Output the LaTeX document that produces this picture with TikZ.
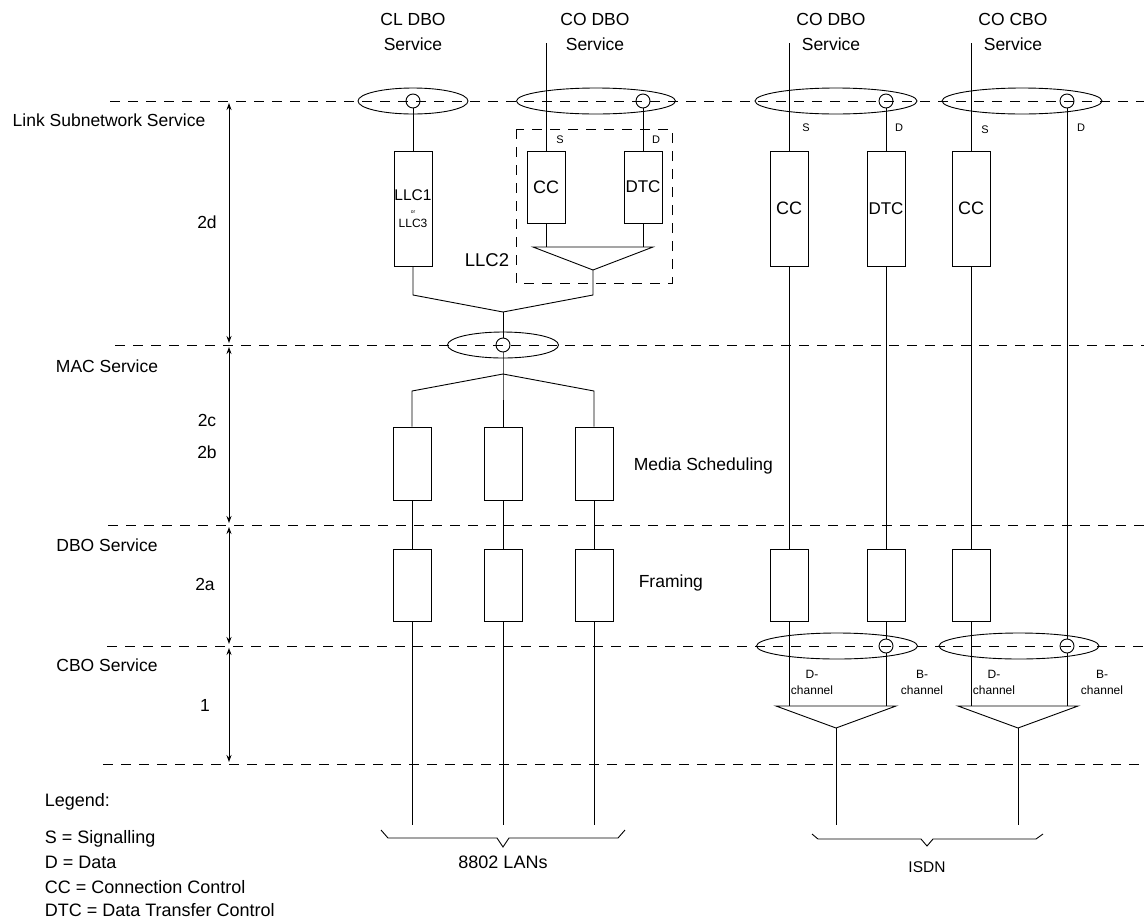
\documentclass[tikz,border=0pt]{standalone}
\usepackage{fontspec}
\setmainfont{Liberation Sans}
\usetikzlibrary{shapes.geometric,arrows.meta}

\tikzset{
  layer/.style={dash pattern=on 10pt off 8pt},
  box/.style={draw, rectangle, minimum width=38pt, inner sep=0pt},
  sap/.style={draw, circle, minimum size=14pt, inner sep=0pt},
  oval/.style={draw, ellipse, minimum height=26pt, inner sep=0pt},
  lbl/.style={font=\fontsize{17.5}{25}\selectfont, align=center},
  legline/.style={font=\fontsize{18}{20}\selectfont, anchor=west},
  tiny/.style={font=\fontsize{11}{12}\selectfont},
  chan/.style={font=\fontsize{12}{16}\selectfont, align=center},
}

\begin{document}
\begin{tikzpicture}[x=1pt, y=-1pt, line width=0.9pt, >={Stealth[length=7pt,width=5pt]}]
  \useasboundingbox (0,0) rectangle (1144,919);

  % layer boundaries
  \foreach \y/\x in {101/110, 345/115, 525/108, 646/107, 764/103}
    \draw[layer] (\x,\y) -- (1144,\y);

  \coordinate (h0) at (229,101);
  \coordinate (h1) at (229,345);
  \coordinate (h2) at (229,525);
  \coordinate (h3) at (229,646);
  \coordinate (h4) at (229,764);
  \draw[<->, shorten <=2pt, shorten >=2pt] (h0) -- (h1);
  \draw[<->, shorten <=2pt, shorten >=2pt] (h1) -- (h2);
  \draw[<->, shorten <=2pt, shorten >=2pt] (h2) -- (h3);
  \draw[<->, shorten <=2pt, shorten >=2pt] (h3) -- (h4);

  \node[lbl] (lss) at (109,120) {Link Subnetwork Service};
  \node[lbl] (macs) at (107,366) {MAC Service};
  \node[lbl] (dbos) at (107,545) {DBO Service};
  \node[lbl] (cbos) at (107,665) {CBO Service};
  \node[lbl] (n2d) at (207,222) {2d};
  \node[lbl] (n2c) at (207,420) {2c};
  \node[lbl] (n2b) at (207,452) {2b};
  \node[lbl] (n2a) at (205,584) {2a};
  \node[lbl] (n1) at (205,705) {1};

  % service headings
  \node[lbl] (cl) at (413,32) {CL DBO\\Service};
  \node[lbl] (co1) at (595,32) {CO DBO\\Service};
  \node[lbl] (co2) at (831,32) {CO DBO\\Service};
  \node[lbl] (co3) at (1013,32) {CO CBO\\Service};

  % LLC1 / LLC3
  \node[oval, minimum width=110pt] (o1) at (413,101) {};
  \node[sap] (p1) at (413,101) {};
  \node[box, minimum height=115pt, align=center] (llc1) at (413,208.5)
    {\fontsize{15.5}{17}\selectfont LLC1\\[1pt]{\fontsize{5}{5}\selectfont or}\\[2pt]{\fontsize{12}{14}\selectfont LLC3}};
  \draw (p1) -- (llc1);

  % LLC2
  \coordinate (s2) at (546,43);
  \node[oval, minimum width=159pt] (o2) at (596,101) {};
  \node[sap] (p2) at (643,101) {};
  \node[box, minimum height=72pt, font=\fontsize{18}{20}\selectfont] (cc1) at (546,187) {CC};
  \node[box, minimum height=72pt, font=\fontsize{17}{20}\selectfont] (dtc1) at (643,187) {DTC};
  \draw (s2) -- (cc1);
  \draw (p2) -- (dtc1);
  \node[tiny] (sl2) at (560,140) {S};
  \node[tiny] (dl2) at (656,140) {D};
  \coordinate (t2l) at (533,247);
  \coordinate (t2r) at (653,247);
  \coordinate (t2a) at (593,270);
  \draw (t2l) -- (t2r) -- (t2a) -- cycle;
  \draw (cc1) -- (cc1 |- t2l);
  \draw (dtc1) -- (dtc1 |- t2l);
  \draw[layer] (516,129) rectangle (672,283);
  \node[lbl, font=\fontsize{18.5}{20}\selectfont] (llc2) at (487,260) {LLC2};

  \coordinate (k1) at (413,295);
  \coordinate (k2) at (593,295);
  \coordinate (j1) at (503,312);
  \draw (llc1) -- (k1) -- (j1) -- (k2) -- (t2a);

  % MAC
  \node[oval, minimum width=111pt] (o3) at (503,345) {};
  \node[sap] (p3) at (503,345) {};
  \draw (j1) -- (p3);
  \coordinate (b3) at (503,374);
  \coordinate (b3l) at (412,391);
  \coordinate (b3r) at (594,391);
  \node[box, minimum height=73pt] (m1) at (412,463.5) {};
  \node[box, minimum height=73pt] (m2) at (503,463.5) {};
  \node[box, minimum height=73pt] (m3) at (594,463.5) {};
  \draw (p3) -- (b3) -- (m2);
  \draw (b3) -- (b3l) -- (m1);
  \draw (b3) -- (b3r) -- (m3);
  \node[lbl, anchor=west] (msch) at (630,466) {Media Scheduling};

  \node[box, minimum height=72pt] (f1) at (412,585) {};
  \node[box, minimum height=72pt] (f2) at (503,585) {};
  \node[box, minimum height=72pt] (f3) at (594,585) {};
  \node[lbl, anchor=west] (frm) at (635,583) {Framing};
  \coordinate (e1) at (412,825);
  \coordinate (e2) at (503,825);
  \coordinate (e3) at (594,825);
  \draw (m1) -- (f1) -- (e1);
  \draw (m2) -- (f2) -- (e2);
  \draw (m3) -- (f3) -- (e3);
  \draw (381,830) -- (388,838) -- (497,838) -- (503,847) -- (509,838) -- (618,838) -- (625,830);
  \node[lbl, font=\fontsize{18}{20}\selectfont] (lans) at (503,862) {8802 LANs};

  % ISDN, CO DBO
  \coordinate (s3) at (789,43);
  \node[oval, minimum width=162pt] (o4) at (836,101) {};
  \node[sap] (p4) at (886,101) {};
  \node[box, minimum height=115pt, font=\fontsize{18}{20}\selectfont] (cc2) at (789,208.5) {CC};
  \node[box, minimum height=115pt, font=\fontsize{17}{20}\selectfont] (dtc2) at (886,208.5) {DTC};
  \node[tiny] (sl3) at (806,128) {S};
  \node[tiny] (dl3) at (899,128) {D};
  \node[box, minimum height=72pt] (f4) at (789,585) {};
  \node[box, minimum height=72pt] (f5) at (886,585) {};
  \node[oval, minimum width=161pt] (o6) at (837,646) {};
  \node[sap] (p6) at (886,646) {};
  \coordinate (t3l) at (776,706);
  \coordinate (t3r) at (896,706);
  \coordinate (t3a) at (836,728);
  \coordinate (e4) at (836,825);
  \draw (t3l) -- (t3r) -- (t3a) -- cycle;
  \draw (s3) -- (cc2) -- (f4) -- (f4 |- t3l);
  \draw (p4) -- (dtc2) -- (f5) -- (p6) -- (p6 |- t3l);
  \draw (t3a) -- (e4);
  \node[chan] (dch1) at (812,682) {D-\\channel};
  \node[chan] (bch1) at (922,682) {B-\\channel};

  % ISDN, CO CBO
  \coordinate (s4) at (971,43);
  \node[oval, minimum width=160pt] (o5) at (1022,101) {};
  \node[sap] (p5) at (1067,101) {};
  \node[box, minimum height=115pt, font=\fontsize{18}{20}\selectfont] (cc3) at (971,208.5) {CC};
  \node[tiny] (sl4) at (985,130) {S};
  \node[tiny] (dl4) at (1081,128) {D};
  \node[box, minimum height=72pt] (f6) at (971,585) {};
  \node[oval, minimum width=160pt] (o7) at (1019,646) {};
  \node[sap] (p7) at (1067,646) {};
  \coordinate (t4l) at (958,706);
  \coordinate (t4r) at (1078,706);
  \coordinate (t4a) at (1018,728);
  \coordinate (e5) at (1018,825);
  \draw (t4l) -- (t4r) -- (t4a) -- cycle;
  \draw (s4) -- (cc3) -- (f6) -- (f6 |- t4l);
  \draw (p5) -- (p7) -- (p7 |- t4l);
  \draw (t4a) -- (e5);
  \node[chan] (dch2) at (994,682) {D-\\channel};
  \node[chan] (bch2) at (1102,682) {B-\\channel};

  \draw (812,834) -- (818,839) -- (921,839) -- (927,846) -- (933,839) -- (1036,839) -- (1043,834);
  \node[lbl, font=\fontsize{15.5}{18}\selectfont] (isdn) at (927,867) {ISDN};

  % legend
  \node[legline] (leg) at (41,802) {Legend:};
  \node[legline] (lg1) at (41,839) {S = Signalling};
  \node[legline] (lg2) at (41,862) {D = Data};
  \node[legline] (lg3) at (41,887) {CC = Connection Control};
  \node[legline] (lg4) at (41,910) {DTC = Data Transfer Control};
\end{tikzpicture}
\end{document}
